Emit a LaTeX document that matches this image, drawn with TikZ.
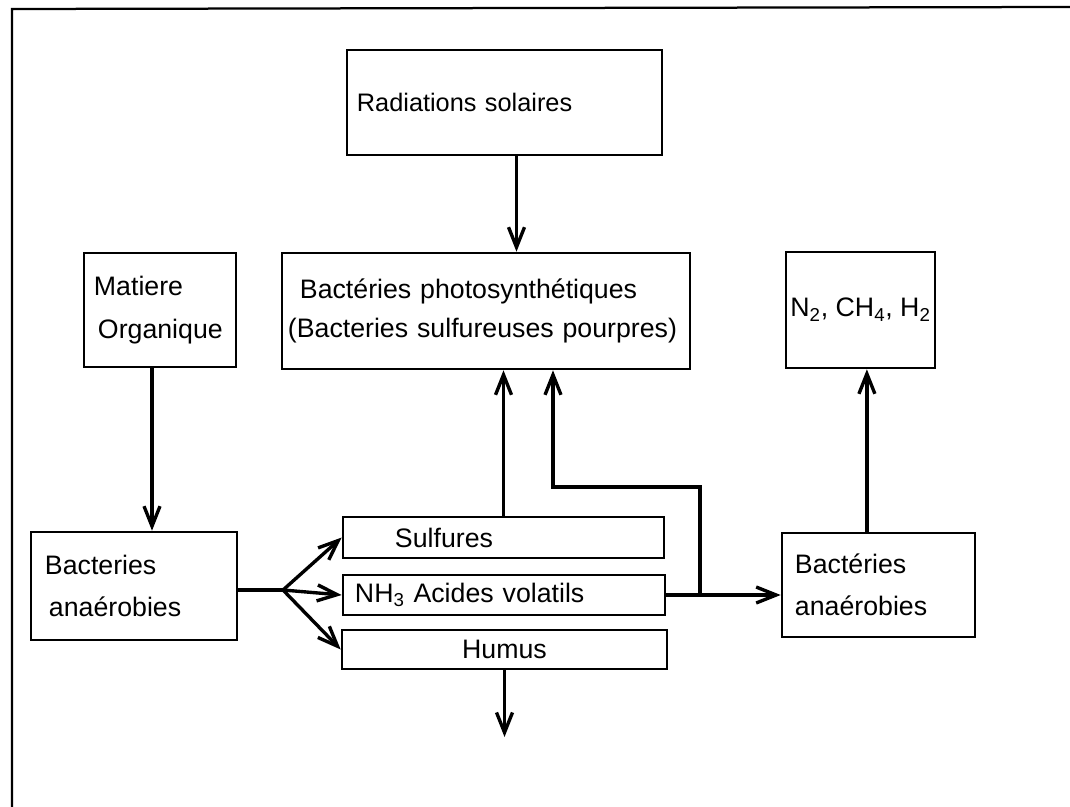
\documentclass[tikz,border=0pt]{standalone}
\usepackage{fontspec}
\setmainfont{Liberation Sans}
\usetikzlibrary{arrows.meta, positioning}

\begin{document}
\begin{tikzpicture}[x=0.025cm, y=-0.025cm,
    box/.style={draw, line width=1.8pt, inner sep=0pt, align=left, font=\fontsize{19}{30}\selectfont},
    arr/.style={line width=2.4pt, -{Straight Barb[length=5mm, width=4mm]}},
    link/.style={line width=2.4pt}]
  \useasboundingbox (0,0) rectangle (1070,807);
  \draw[line width=1.6pt] (1070,7) -- (12,9) -- (12,807);

  \node[box, minimum width=7.875cm, minimum height=2.625cm, text width=7.375cm, font=\fontsize{18}{24}\selectfont] (rad) at (504.5,102.5) {\raisebox{-1.5mm}{Radiations solaires}};
  \node[box, minimum width=10.2cm, minimum height=2.9cm, text width=9.9cm, font=\fontsize{19}{28}\selectfont] (photo) at (486,311) {\hspace{3mm}Bactéries photosynthétiques\\(Bacteries sulfureuses pourpres)};
  \node[box, minimum width=3.8cm, minimum height=2.85cm, text width=3.3cm] (mat) at (160,310) {Matiere\\\hspace{1mm}Organique};
  \node[box, minimum width=3.725cm, minimum height=2.9cm, align=center] (gas) at (860.5,310) {\raisebox{-2mm}{N\textsubscript{2}, CH\textsubscript{4}, H\textsubscript{2}}};

  \node[box, minimum width=5.15cm, minimum height=2.7cm, text width=4.45cm] (lbact) at (134,586) {Bacteries\\\hspace{1mm}anaérobies};
  \node[box, minimum width=8.025cm, minimum height=1.025cm, text width=5.425cm] (sulf) at (503.5,537.5) {Sulfures};
  \node[box, minimum width=8.05cm, minimum height=1cm, text width=7.45cm] (nh3) at (504,595) {NH\textsubscript{3} Acides volatils};
  \node[box, minimum width=8.125cm, minimum height=0.975cm, align=center] (humus) at (504.5,649.5) {Humus};
  \node[box, minimum width=4.825cm, minimum height=2.6cm, text width=4.175cm] (rbact) at (878.5,585) {Bactéries\\anaérobies};

  \coordinate (split) at (283,590);
  \coordinate (jn) at (700,595);
  \coordinate (bend) at (553,487);
  \coordinate (sink) at (500,737);

  \draw[arr] ([xshift=0.3cm]rad.south) -- ([xshift=0.3cm]rad.south |- photo.north);
  \draw[arr] ([xshift=-0.2cm]mat.south) -- ([xshift=-0.2cm]mat.south |- lbact.north);
  \draw[link] (split -| lbact.east) -- (split);
  \draw[arr] (split) -- (sulf.west);
  \draw[arr] (split) -- (nh3.west);
  \draw[arr] (split) -- (humus.west);
  \draw[arr] (sulf.north) -- (sulf.north |- photo.south);
  \draw[arr] (nh3.east) -- (rbact.west |- nh3.east);
  \draw[arr] (jn) |- (bend) -- (bend |- photo.south);
  \draw[arr] ([xshift=-0.29cm]rbact.north) -- ([xshift=-0.29cm]rbact.north |- gas.south);
  \draw[arr] (humus.south) -- (humus.south |- sink);
\end{tikzpicture}
\end{document}
